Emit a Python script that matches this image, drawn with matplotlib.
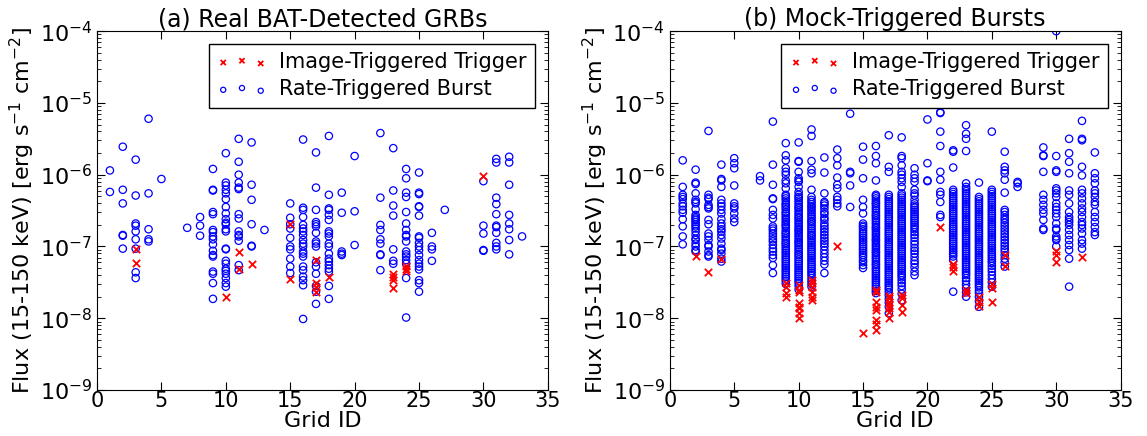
import numpy as np
import matplotlib
matplotlib.use("Agg")
import matplotlib.pyplot as plt

# log10 of flux (erg s^-1 cm^-2), grouped by grid ID

# (a) real BAT-detected GRBs
a_rate = {
    1: [-5.94, -6.24],
    2: [-5.61, -6.21, -6.40, -6.84, -6.85, -7.03],
    3: [-5.79, -6.29, -6.68, -6.71, -6.79, -6.90, -7.03, -7.36, -7.44],
    4: [-5.22, -6.26, -6.76, -6.90, -6.93],
    5: [-6.06],
    7: [-6.74],
    8: [-6.59, -6.71, -6.85],
    9: [-5.92, -6.21, -6.22, -6.52, -6.55, -6.77, -6.80, -6.86, -6.90, -6.97,
        -7.06, -7.12, -7.14, -7.35, -7.38, -7.51, -7.73],
    10: [-5.70, -6.11, -6.15, -6.21, -6.26, -6.34, -6.45, -6.54, -6.62, -6.67,
         -6.69, -6.76, -6.79, -7.03, -7.04, -7.20, -7.24, -7.31, -7.34, -7.38,
         -7.44, -7.51, -7.56],
    11: [-5.50, -5.82, -6.00, -6.11, -6.18, -6.20, -6.55, -6.61, -6.79, -6.84,
         -6.86, -6.92, -7.26, -7.33],
    12: [-5.55, -6.14, -6.35, -6.69, -6.99, -7.00],
    13: [-6.77],
    15: [-6.40, -6.60, -6.69, -6.75, -6.88, -7.00, -7.04, -7.17, -7.28, -7.37],
    16: [-5.51, -6.46, -6.49, -6.59, -6.70, -6.75, -6.79, -6.84, -6.91, -6.96,
         -7.00, -7.07, -7.10, -7.14, -7.28, -7.33, -7.42, -7.47, -7.54, -8.01],
    17: [-5.69, -6.18, -6.49, -6.66, -6.69, -6.72, -6.81, -6.93, -6.96, -7.00,
         -7.22, -7.28, -7.38, -7.55, -7.63, -7.80],
    18: [-5.46, -6.28, -6.47, -6.49, -6.56, -6.63, -6.79, -6.82, -6.86, -6.96,
         -7.00, -7.10, -7.17, -7.21, -7.26, -7.31, -7.35, -7.55, -7.73],
    19: [-6.25, -6.53, -7.07, -7.10, -7.12],
    20: [-5.74, -6.51, -6.98],
    22: [-5.42, -6.32, -6.70, -6.77, -6.90, -6.96, -7.11, -7.12, -7.33],
    23: [-5.63, -6.22, -6.43, -6.57, -7.04, -7.20, -7.24],
    24: [-5.92, -6.05, -6.25, -6.31, -6.52, -6.68, -6.77, -6.84, -6.86, -6.93,
         -7.07, -7.11, -7.14, -7.19, -7.24, -7.44, -7.99],
    25: [-5.97, -6.25, -6.27, -6.44, -6.45, -6.57, -6.86, -6.88, -6.95, -7.00,
         -7.05, -7.12, -7.19, -7.24, -7.28, -7.32, -7.47, -7.51, -7.63],
    26: [-6.81, -7.00, -7.04, -7.20],
    27: [-6.49],
    30: [-6.09, -6.71, -6.82, -7.05, -7.06],
    31: [-5.78, -5.83, -6.32, -6.41, -6.55, -6.71, -6.73, -6.81, -6.95, -7.00, -7.04],
    32: [-5.75, -5.83, -6.14, -6.56, -6.68, -6.76, -6.91, -7.11],
    33: [-6.86],
}
a_image = {
    3: [-7.03, -7.23],
    10: [-7.71],
    11: [-7.08, -7.32],
    12: [-7.24],
    15: [-6.69, -7.45],
    17: [-7.19, -7.51, -7.56, -7.63],
    18: [-7.43],
    23: [-7.38, -7.43, -7.47, -7.58],
    24: [-7.27, -7.31, -7.34],
    30: [-6.02],
}

# (b) mock-triggered bursts
b_rate = {
    1: [-5.80, -6.17, -6.28, -6.31, -6.34, -6.40, -6.44, -6.49, -6.53, -6.62,
        -6.72, -6.86, -6.97],
    2: [-5.93, -6.11, -6.13, -6.26, -6.35, -6.38, -6.40, -6.48, -6.56, -6.59,
        -6.61, -6.63, -6.66, -6.69, -6.72, -6.75, -6.79, -6.84, -6.89, -6.91,
        -6.96, -7.00, -7.05, -7.07],
    3: [-5.39, -6.28, -6.32, -6.34, -6.42, -6.45, -6.47, -6.63, -6.69, -6.82,
        -6.86, -6.91, -6.98, -7.00, -7.07, -7.12, -7.14],
    4: [-5.86, -6.06, -6.08, -6.17, -6.35, -6.40, -6.44, -6.49, -6.54, -6.62,
        -6.68, -6.72, -6.76, -6.79, -6.84, -6.89, -6.96, -7.03, -7.05, -7.10,
        -7.17, -7.21],
    5: [-5.77, -5.84, -5.91, -6.15, -6.40, -6.44, -6.47, -6.54, -6.61, -6.66],
    7: [-6.02, -6.08],
    8: [-5.26, -5.86, -6.14, -6.33, -6.34, -6.49, -6.56, -6.61, -6.72, -6.75,
        -6.78, -6.82, -6.86, -6.90, -6.93, -6.98, -7.03, -7.07, -7.12, -7.16,
        -7.26, -7.37],
    9: [-5.56, -5.73, -5.80, -5.91, -5.96, -6.00, -6.08, -6.12, -6.19, -6.28,
        -6.30, -6.33, -6.36, -6.40, -6.42, -6.45, -6.48, -6.52, -6.54, -6.57,
        -6.60, -6.63, -6.66, -6.69, -6.71, -6.74, -6.78, -6.81, -6.83, -6.86,
        -6.89, -6.92, -6.95, -6.97, -7.00, -7.03, -7.06, -7.09, -7.12, -7.15,
        -7.18, -7.21, -7.24, -7.27, -7.30, -7.33, -7.36, -7.39, -7.42, -7.45,
        -7.48, -7.52],
    10: [-5.55, -5.81, -5.82, -5.96, -6.05, -6.08, -6.10, -6.17, -6.24, -6.28,
         -6.31, -6.33, -6.36, -6.39, -6.42, -6.45, -6.47, -6.50, -6.53, -6.56,
         -6.59, -6.61, -6.64, -6.67, -6.70, -6.73, -6.76, -6.78, -6.81, -6.84,
         -6.87, -6.90, -6.93, -6.95, -6.98, -7.01, -7.04, -7.07, -7.10, -7.12,
         -7.15, -7.18, -7.21, -7.24, -7.27, -7.30, -7.33, -7.36, -7.39, -7.42,
         -7.45, -7.48, -7.51, -7.55, -7.60],
    11: [-5.37, -5.46, -5.81, -5.93, -5.98, -6.21, -6.31, -6.35, -6.38, -6.41,
         -6.44, -6.46, -6.49, -6.52, -6.55, -6.58, -6.61, -6.64, -6.66, -6.69,
         -6.72, -6.75, -6.78, -6.81, -6.84, -6.86, -6.89, -6.92, -6.95, -6.98,
         -7.01, -7.04, -7.07, -7.10, -7.13, -7.16, -7.19, -7.22, -7.25, -7.28,
         -7.31, -7.34, -7.37, -7.40, -7.44, -7.48, -7.52, -7.56],
    12: [-5.76, -5.97, -6.26, -6.38, -6.40, -6.43, -6.47, -6.52, -6.55, -6.60,
         -6.63, -6.68, -6.72, -6.76, -6.80, -6.84, -6.88, -6.92, -6.96, -7.00,
         -7.05, -7.10, -7.15, -7.20, -7.25, -7.37],
    13: [-5.65, -5.77, -5.87, -6.04, -6.14, -6.19, -6.31, -6.35, -6.40, -6.44],
    14: [-5.15, -5.96, -5.98, -6.15, -6.45],
    15: [-5.61, -5.79, -6.05, -6.35, -6.45, -6.54, -6.68, -6.71, -6.73, -6.76,
         -6.79, -6.82, -6.85, -6.88, -6.91, -6.94, -6.97, -7.00, -7.03, -7.06,
         -7.09, -7.12, -7.15, -7.19, -7.22, -7.26, -7.30],
    16: [-5.60, -5.74, -5.84, -6.08, -6.28, -6.30, -6.33, -6.36, -6.39, -6.41,
         -6.44, -6.47, -6.50, -6.53, -6.56, -6.58, -6.61, -6.64, -6.67, -6.70,
         -6.73, -6.75, -6.78, -6.81, -6.84, -6.87, -6.90, -6.92, -6.95, -6.98,
         -7.01, -7.04, -7.07, -7.09, -7.12, -7.15, -7.18, -7.21, -7.24, -7.26,
         -7.29, -7.32, -7.35, -7.38, -7.41, -7.44, -7.47, -7.50, -7.53, -7.56,
         -7.59, -7.62, -7.65],
    17: [-5.45, -5.89, -5.96, -6.28, -6.31, -6.34, -6.37, -6.40, -6.43, -6.46,
         -6.49, -6.52, -6.55, -6.58, -6.61, -6.64, -6.67, -6.70, -6.73, -6.76,
         -6.79, -6.82, -6.85, -6.88, -6.91, -6.94, -6.97, -7.00, -7.03, -7.06,
         -7.09, -7.12, -7.15, -7.18, -7.21, -7.24, -7.27, -7.30, -7.33, -7.36,
         -7.39, -7.42, -7.45, -7.48, -7.51, -7.54, -7.57, -7.60, -7.64, -7.68,
         -7.73, -7.78, -7.84, -7.93],
    18: [-5.48, -5.74, -5.77, -5.87, -5.96, -6.00, -6.05, -6.10, -6.17, -6.26,
         -6.29, -6.32, -6.35, -6.38, -6.41, -6.44, -6.47, -6.50, -6.53, -6.56,
         -6.59, -6.62, -6.65, -6.68, -6.71, -6.74, -6.77, -6.80, -6.83, -6.86,
         -6.89, -6.92, -6.95, -6.98, -7.01, -7.04, -7.07, -7.10, -7.13, -7.16,
         -7.19, -7.22, -7.25, -7.28, -7.31, -7.34, -7.37, -7.40, -7.43, -7.47,
         -7.51, -7.55, -7.60, -7.66, -7.75],
    19: [-5.91, -6.00, -6.05, -6.10, -6.21, -6.26, -6.29, -6.35, -6.40, -6.43,
         -6.46, -6.49, -6.52, -6.55, -6.58, -6.61, -6.64, -6.67, -6.70, -6.73,
         -6.76, -6.80, -6.84, -6.88, -6.93, -6.97, -7.02, -7.06, -7.10, -7.15,
         -7.20, -7.24, -7.29, -7.35, -7.40],
    20: [-5.23, -5.84, -6.08, -6.09],
    21: [-5.13, -5.14, -5.40, -5.60, -5.96, -6.07, -6.24, -6.28, -6.38, -6.56, -6.59],
    22: [-5.66, -5.68, -5.90, -6.21, -6.24, -6.27, -6.30, -6.33, -6.36, -6.39,
         -6.42, -6.45, -6.48, -6.51, -6.54, -6.57, -6.60, -6.63, -6.66, -6.69,
         -6.72, -6.75, -6.78, -6.81, -6.84, -6.87, -6.90, -6.93, -6.96, -6.99,
         -7.02, -7.05, -7.08, -7.11, -7.14, -7.19, -7.63],
    23: [-5.31, -5.43, -5.50, -5.67, -6.12, -6.17, -6.20, -6.23, -6.26, -6.29,
         -6.32, -6.35, -6.38, -6.41, -6.44, -6.47, -6.50, -6.53, -6.56, -6.59,
         -6.62, -6.65, -6.68, -6.71, -6.74, -6.77, -6.80, -6.83, -6.86, -6.89,
         -6.92, -6.95, -6.98, -7.01, -7.04, -7.07, -7.10, -7.13, -7.16, -7.19,
         -7.22, -7.25, -7.28, -7.31, -7.34, -7.37, -7.40, -7.44, -7.48, -7.53,
         -7.58, -7.64, -7.70],
    24: [-6.11, -6.31, -6.34, -6.37, -6.40, -6.43, -6.46, -6.49, -6.52, -6.55,
         -6.58, -6.61, -6.64, -6.67, -6.70, -6.73, -6.76, -6.79, -6.82, -6.85,
         -6.88, -6.91, -6.94, -6.97, -7.00, -7.03, -7.06, -7.09, -7.12, -7.15,
         -7.18, -7.21, -7.24, -7.27, -7.30, -7.33, -7.36, -7.39, -7.42, -7.45,
         -7.48, -7.51, -7.54, -7.57, -7.61, -7.65, -7.70, -7.76, -7.84],
    25: [-5.40, -6.21, -6.24, -6.27, -6.30, -6.33, -6.36, -6.39, -6.42, -6.45,
         -6.48, -6.51, -6.54, -6.57, -6.60, -6.63, -6.66, -6.69, -6.72, -6.75,
         -6.78, -6.81, -6.84, -6.87, -6.90, -6.93, -6.96, -6.99, -7.02, -7.05,
         -7.08, -7.11, -7.14, -7.17, -7.20, -7.23, -7.27, -7.31, -7.35, -7.40,
         -7.45, -7.50, -7.56],
    26: [-5.68, -5.89, -5.94, -5.98, -6.07, -6.25, -6.49, -6.52, -6.56, -6.60,
         -6.63, -6.67, -6.71, -6.75, -6.79, -6.83, -6.87, -6.91, -6.95, -6.99,
         -7.03, -7.07, -7.12, -7.17, -7.22, -7.28],
    27: [-6.10, -6.12, -6.17],
    29: [-5.62, -5.73, -5.74, -5.96, -6.28, -6.35, -6.42, -6.49, -6.54, -6.63,
         -6.75, -6.77],
    30: [-4.00, -5.74, -5.94, -5.96, -6.19, -6.22, -6.26, -6.31, -6.40, -6.45,
         -6.49, -6.54, -6.59, -6.68, -6.75, -6.77, -6.86, -6.89, -6.91, -7.00],
    31: [-5.50, -5.70, -5.82, -5.98, -6.22, -6.28, -6.40, -6.52, -6.59, -6.63,
         -6.66, -6.70, -6.77, -6.84, -6.91, -6.98, -7.05, -7.17, -7.56],
    32: [-5.25, -5.50, -5.52, -5.89, -6.01, -6.21, -6.26, -6.33, -6.40, -6.47,
         -6.52, -6.59, -6.66, -6.70, -6.75, -6.82, -6.91, -6.96, -7.03],
    33: [-5.69, -5.98, -6.05, -6.12, -6.22, -6.26, -6.31, -6.38, -6.42, -6.52,
         -6.59, -6.66, -6.73, -6.80, -6.84],
}
b_image = {
    2: [-7.13],
    3: [-7.35],
    4: [-7.18],
    9: [-7.51, -7.56, -7.65, -7.70],
    10: [-7.54, -7.61, -7.63, -7.79, -7.84, -7.86, -7.93, -8.00],
    11: [-7.47, -7.51, -7.56, -7.63, -7.70, -7.75],
    13: [-6.99],
    15: [-8.21],
    16: [-7.61, -7.64, -7.77, -7.84, -7.89, -8.02, -8.08, -8.16],
    17: [-7.69, -7.72, -7.77, -7.82, -7.86, -7.91, -8.00],
    18: [-7.68, -7.72, -7.82, -7.91],
    21: [-6.73],
    22: [-7.24, -7.28, -7.34],
    23: [-7.61, -7.65],
    24: [-7.70, -7.77, -7.83],
    25: [-7.52, -7.58, -7.78],
    26: [-7.12, -7.27],
    30: [-7.07, -7.12, -7.21],
    32: [-7.15],
}

titles = ["(a) Real BAT-Detected GRBs", "(b) Mock-Triggered Bursts"]


def flatten(d):
    xs, ys = [], []
    for g, vals in d.items():
        for v in vals:
            xs.append(g)
            ys.append(10.0 ** v)
    return xs, ys


fig = plt.figure(figsize=(11.47, 4.36), dpi=100)
ax1 = fig.add_axes([0.0846, 0.1055, 0.393, 0.823])
ax2 = fig.add_axes([0.584, 0.1055, 0.393, 0.823])

for ax, rate, image, title in [(ax1, a_rate, a_image, titles[0]),
                               (ax2, b_rate, b_image, titles[1])]:
    xi, yi = flatten(image)
    xr, yr = flatten(rate)
    ax.scatter(xi, yi, marker="x", s=28, c="red", linewidths=1.3,
               label="Image-Triggered Trigger", zorder=3)
    ax.scatter(xr, yr, marker="o", s=28, facecolors="none", edgecolors="blue",
               linewidths=0.9, label="Rate-Triggered Burst", zorder=2)
    ax.set_yscale("log")
    ax.set_xlim(0, 35)
    ax.set_ylim(1e-9, 1e-4)
    ax.set_xticks(range(0, 36, 5))
    ax.set_xlabel("Grid ID", fontsize=16, labelpad=0)
    ax.set_ylabel("Flux (15-150 keV) [erg s$^{-1}$ cm$^{-2}$]", fontsize=16,
                  labelpad=2)
    ax.set_title(title, fontsize=17, pad=3)
    ax.tick_params(which="both", direction="in", top=True, right=True,
                   labelsize=16)
    ax.tick_params(axis="x", pad=1, labelsize=15)
    ax.tick_params(which="major", length=6)
    ax.tick_params(which="minor", length=3)
    leg = ax.legend(loc="upper right", scatterpoints=3,
                    scatteryoffsets=[0.375, 0.5, 0.3125], markerscale=0.7,
                    fontsize=15, fancybox=False, edgecolor="black",
                    framealpha=1, borderaxespad=0.6, handletextpad=0.6,
                    handlelength=2.4, labelspacing=0.35, borderpad=0.4)
    leg.get_frame().set_linewidth(1.0)

fig.savefig("out.png", dpi=100)
